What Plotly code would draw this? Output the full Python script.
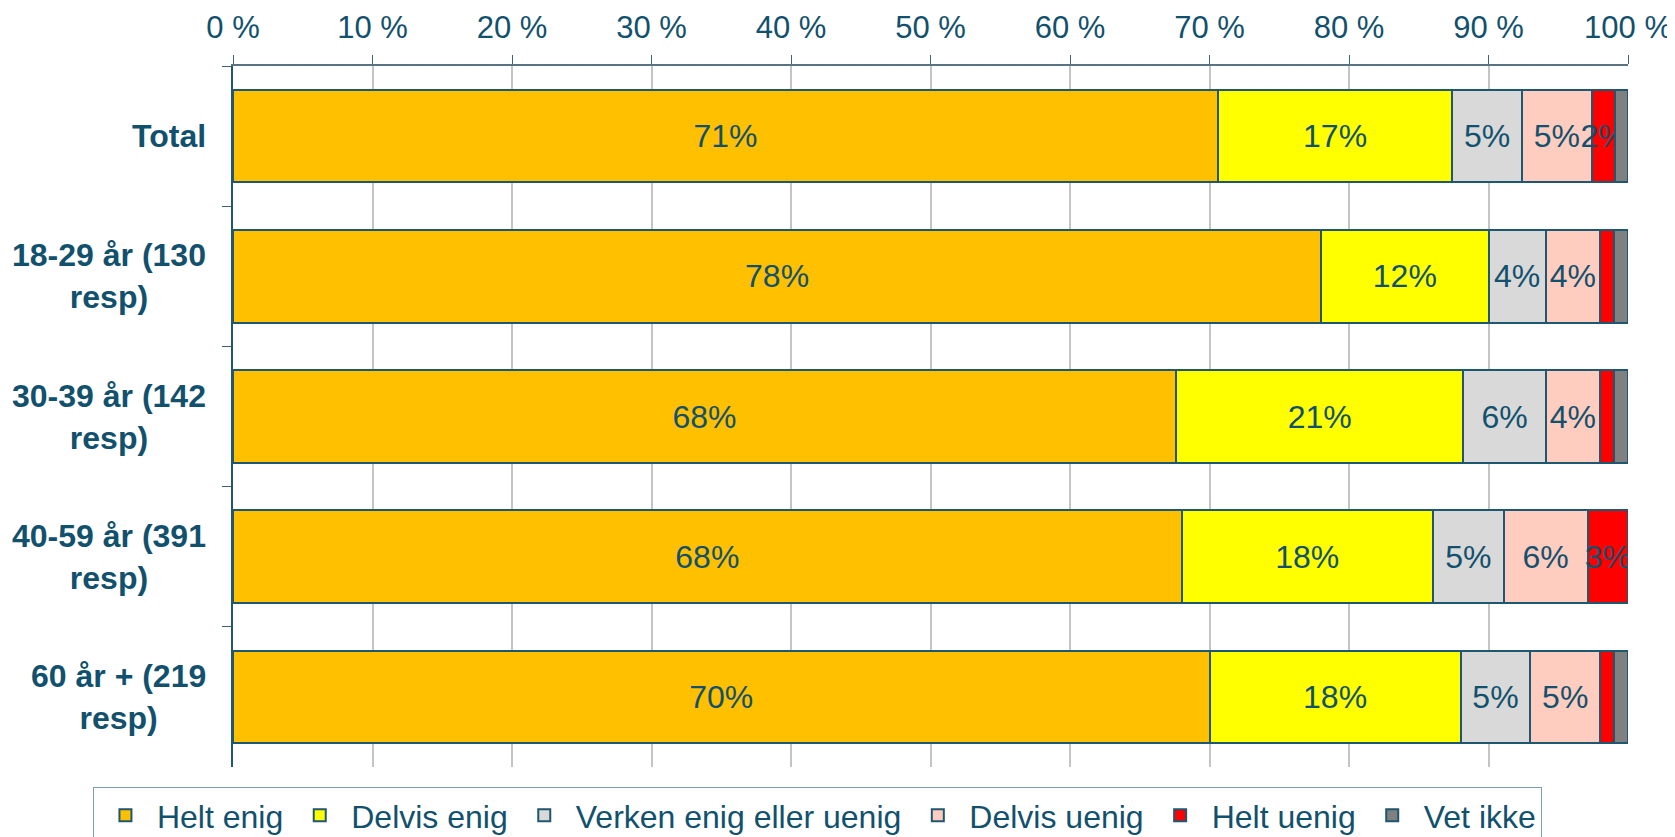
import plotly.graph_objects as go

categories = ["Total", "18-29 år (130<br>resp)", "30-39 år (142<br>resp)",
              "40-59 år (391<br>resp)", "60 år + (219<br>resp)"]
series_names = ["Helt enig", "Delvis enig", "Verken enig eller uenig",
                "Delvis uenig", "Helt uenig", "Vet ikke"]
helt_enig = [70.6, 78.0, 67.6, 68.0, 70.0]
delvis_enig = [16.8, 12.0, 20.6, 18.0, 18.0]
verken = [5.0, 4.1, 5.9, 5.1, 5.0]
delvis_uenig = [5.0, 3.9, 3.9, 6.0, 5.0]
helt_uenig = [1.7, 1.0, 1.0, 2.9, 1.0]
vet_ikke = [0.9, 1.0, 1.0, 0.0, 1.0]
colors = ["#FFC000", "#FFFF00", "#D9D9D9", "#FFCCC0", "#FF0000", "#808080"]
tick_values = [0, 10, 20, 30, 40, 50, 60, 70, 80, 90, 100]

TXT = "#12516D"
FONT = "Liberation Sans, Arial, sans-serif"

fig = go.Figure()
for name, vals, col in zip(series_names,
                           [helt_enig, delvis_enig, verken, delvis_uenig, helt_uenig, vet_ikke],
                           colors):
    fig.add_trace(go.Bar(
        y=categories, x=vals, name=name, orientation="h",
        marker=dict(color=col, line=dict(color="#1F5670", width=2)),
        text=[f"{round(v)}%" if v >= 1.5 else "" for v in vals],
        textposition="inside", insidetextanchor="middle", textangle=0,
        constraintext="none",
        textfont=dict(family=FONT, size=32, color=TXT),
        hoverinfo="skip",
    ))

for c in categories:
    fig.add_annotation(x=0, xref="paper", y=c, yref="y", text=f"<b>{c}</b>",
                       showarrow=False, xanchor="right", align="center",
                       xshift=-25, font=dict(family=FONT, size=32, color=TXT))

fig.update_layout(
    width=1675, height=837, barmode="stack", bargap=0.34,
    margin=dict(l=225, r=55, t=58, b=78, autoexpand=False),
    plot_bgcolor="white", paper_bgcolor="white",
    font=dict(family=FONT, color=TXT),
    uniformtext=dict(minsize=32, mode="show"),
    legend=dict(orientation="h", x=-0.1004, xanchor="left", y=-0.0285, yanchor="top",
                font=dict(family=FONT, size=32, color=TXT), itemwidth=53,
                bordercolor="#7F9FAF", borderwidth=1, bgcolor="white",
                traceorder="normal"),
    xaxis=dict(side="top", range=[0, 100], tickvals=tick_values,
               ticktext=[f"{v} %" for v in tick_values],
               tickfont=dict(family=FONT, size=31, color=TXT),
               showgrid=True, gridcolor="#C4C4C4", gridwidth=2,
               showline=True, linecolor="#5A7382", linewidth=2,
               ticks="outside", ticklen=9, tickcolor="#3F6475",
               ticklabelstandoff=5, automargin=False, zeroline=False),
    yaxis=dict(autorange="reversed", showticklabels=False, tickson="boundaries",
               ticks="outside", ticklen=9, tickcolor="#3F6475", automargin=False,
               showline=True, linecolor="#1F5670", linewidth=2, showgrid=False),
)

fig.write_html("out.html")
